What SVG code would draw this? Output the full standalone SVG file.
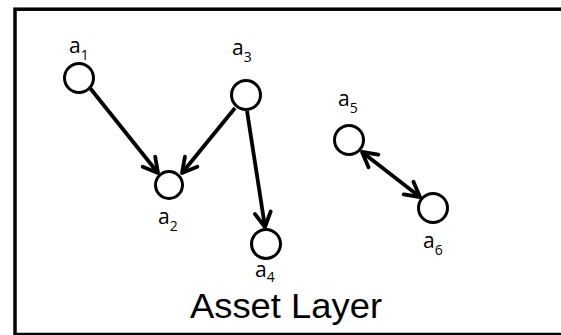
<svg xmlns="http://www.w3.org/2000/svg" width="561" height="335" viewBox="0 0 561 335">
<style>
.node{fill:#fff;stroke:#000;stroke-width:3}
.edge{fill:none;stroke:#000;stroke-width:3.8}
.lbl{font-family:"Open Sans","Liberation Sans",sans-serif;font-size:21px;fill:#000}
.sub{font-size:14px}
.title{font-family:"Liberation Sans","Open Sans",sans-serif;font-size:35px;fill:#000}
</style>
<defs>
<marker id="arr" markerUnits="userSpaceOnUse" orient="auto-start-reverse" refX="0" refY="0" markerWidth="30" markerHeight="30" viewBox="-20 -15 30 30" overflow="visible">
<path d="M -14.5 -8 L 0 0 L -14.5 8" fill="none" stroke="#000" stroke-width="3.8" stroke-linecap="round" stroke-linejoin="round"/>
</marker>
</defs>
<rect x="15" y="9.2" width="560" height="325.3" fill="#fff" stroke="#000" stroke-width="3.5"/>
<g id="connectors">
<line class="edge" x1="90" y1="88" x2="158" y2="173" marker-end="url(#arr)"/>
<line class="edge" x1="235" y1="108" x2="182" y2="173" marker-end="url(#arr)"/>
<line class="edge" x1="247" y1="111" x2="265" y2="227" marker-end="url(#arr)"/>
<line class="edge" x1="362" y1="152" x2="420" y2="197" marker-start="url(#arr)" marker-end="url(#arr)"/>
</g>
<g id="a1"><circle class="node" cx="79" cy="78" r="14.5"/><text class="lbl" x="69" y="53">a<tspan class="sub" dy="7">1</tspan></text></g>
<g id="a2"><circle class="node" cx="169" cy="185" r="13.5"/><text class="lbl" x="158" y="224">a<tspan class="sub" dy="7">2</tspan></text></g>
<g id="a3"><circle class="node" cx="246" cy="95" r="14.5"/><text class="lbl" x="232" y="55">a<tspan class="sub" dy="7">3</tspan></text></g>
<g id="a4"><circle class="node" cx="266" cy="244" r="14.5"/><text class="lbl" x="255" y="277">a<tspan class="sub" dy="5">4</tspan></text></g>
<g id="a5"><circle class="node" cx="349" cy="140" r="14.5"/><text class="lbl" x="338" y="106">a<tspan class="sub" dy="7">5</tspan></text></g>
<g id="a6"><circle class="node" cx="433" cy="208" r="14.5"/><text class="lbl" x="423" y="248">a<tspan class="sub" dy="7">6</tspan></text></g>
<text class="title" x="190" y="318" textLength="192" lengthAdjust="spacingAndGlyphs">Asset Layer</text>
</svg>
